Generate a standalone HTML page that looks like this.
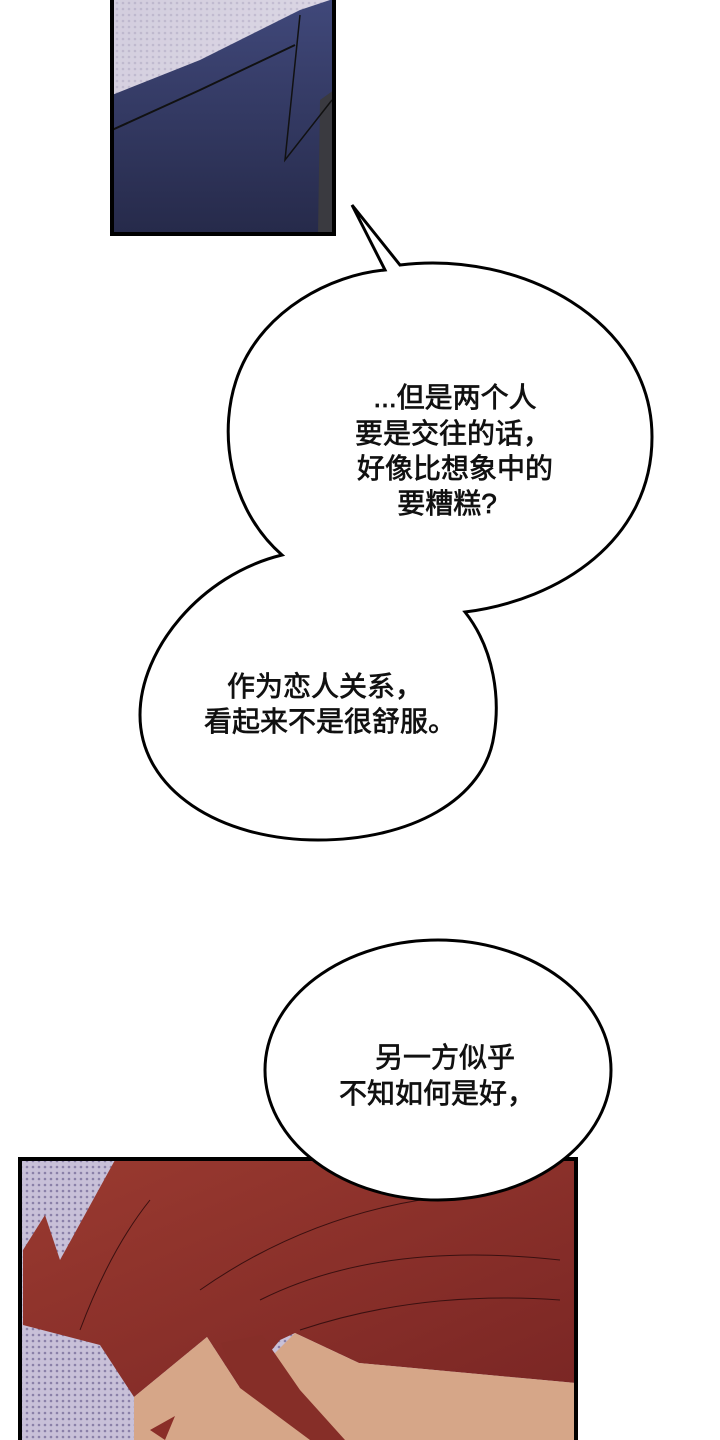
<!DOCTYPE html>
<html><head><meta charset="utf-8"><style>
html,body{margin:0;padding:0;background:#fff}
body{width:720px;height:1440px;overflow:hidden;position:relative}
svg{position:absolute;left:0;top:0}
.t{font-family:"Liberation Sans","Noto Sans CJK SC",sans-serif;font-size:28px;fill:#111;stroke:#111;stroke-width:0.7;text-anchor:middle}
</style></head><body>
<svg width="720" height="1440" viewBox="0 0 720 1440">
<defs>
<pattern id="dots" width="6" height="6" patternUnits="userSpaceOnUse"><rect width="6" height="6" fill="#c8c0d8"/><circle cx="3" cy="3" r="1.3" fill="#8a80a8"/></pattern>
<linearGradient id="navy" x1="0" y1="0" x2="0" y2="1"><stop offset="0" stop-color="#40487a"/><stop offset="1" stop-color="#262a4a"/></linearGradient>
<linearGradient id="hair" x1="0" y1="0" x2="1" y2="1"><stop offset="0" stop-color="#9a3a30"/><stop offset="1" stop-color="#7a2624"/></linearGradient>
<linearGradient id="topbg" x1="0" y1="0" x2="1" y2="1"><stop offset="0" stop-color="#d8d4e0"/><stop offset="1" stop-color="#f0eef4"/></linearGradient>
</defs>
<rect x="112" y="0" width="222" height="234" fill="url(#topbg)"/>
<rect x="112" y="0" width="222" height="234" fill="url(#dots)" opacity="0.35"/>
<path d="M112 95 L200 60 L300 10 L330 0 L334 0 L334 234 L112 234 Z" fill="url(#navy)"/>
<path d="M320 100 L334 90 L334 234 L318 234 Z" fill="#3a3a40"/>
<path d="M112 130 L200 90 L295 45" stroke="#111" stroke-width="2" fill="none"/>
<path d="M300 15 L285 160 L332 100" stroke="#111" stroke-width="1.5" fill="none"/>
<rect x="112" y="-3" width="222" height="237" fill="none" stroke="#000" stroke-width="4"/>
<rect x="20" y="1159" width="556" height="283" fill="url(#dots)"/>
<path d="M23 1250 L45 1215 L60 1260 L115 1160 L576 1159 L576 1383 L359 1363 L295 1333 L280 1340 L240 1388 L207 1337 L134 1397 L100 1345 L23 1325 Z" fill="url(#hair)"/>
<path d="M134 1397 L207 1337 L240 1388 L295 1333 L359 1363 L576 1383 L576 1440 L134 1440 Z" fill="#d6a688"/>
<path d="M221 1343 L262 1335 L300 1390 L345 1440 L310 1440 L240 1388 Z" fill="#862e28"/>
<path d="M150 1430 L175 1416 L165 1440 Z" fill="#8a2e28"/>
<path d="M200 1290 Q300 1220 420 1200 M260 1300 Q380 1240 560 1260 M300 1330 Q420 1290 560 1300 M80 1330 Q110 1250 150 1200" stroke="#3a1010" stroke-width="1" fill="none"/>
<rect x="20" y="1159" width="556" height="290" fill="none" stroke="#000" stroke-width="4"/>
<path d="M400 265 C520 250 652 320 652 437 C652 540 560 600 465 612 C495 650 500 700 494 735 C485 800 410 840 318 840 C220 840 140 790 140 715 C140 650 200 575 282 555 C230 510 215 430 240 370 C265 310 330 275 385 270 L352 205 Z" fill="#fff" stroke="#000" stroke-width="3" stroke-linejoin="miter"/>
<ellipse cx="438" cy="1070" rx="173" ry="130" fill="#fff" stroke="#000" stroke-width="3"/>
<text class="t" x="455" y="407">...但是两个人</text>
<text class="t" x="453" y="443">要是交往的话，</text>
<text class="t" x="455" y="478">好像比想象中的</text>
<text class="t" x="447" y="513">要糟糕?</text>
<text class="t" x="325" y="696">作为恋人关系，</text>
<text class="t" x="330" y="731">看起来不是很舒服。</text>
<text class="t" x="445" y="1067">另一方似乎</text>
<text class="t" x="437" y="1103">不知如何是好，</text>
</svg>
</body></html>
